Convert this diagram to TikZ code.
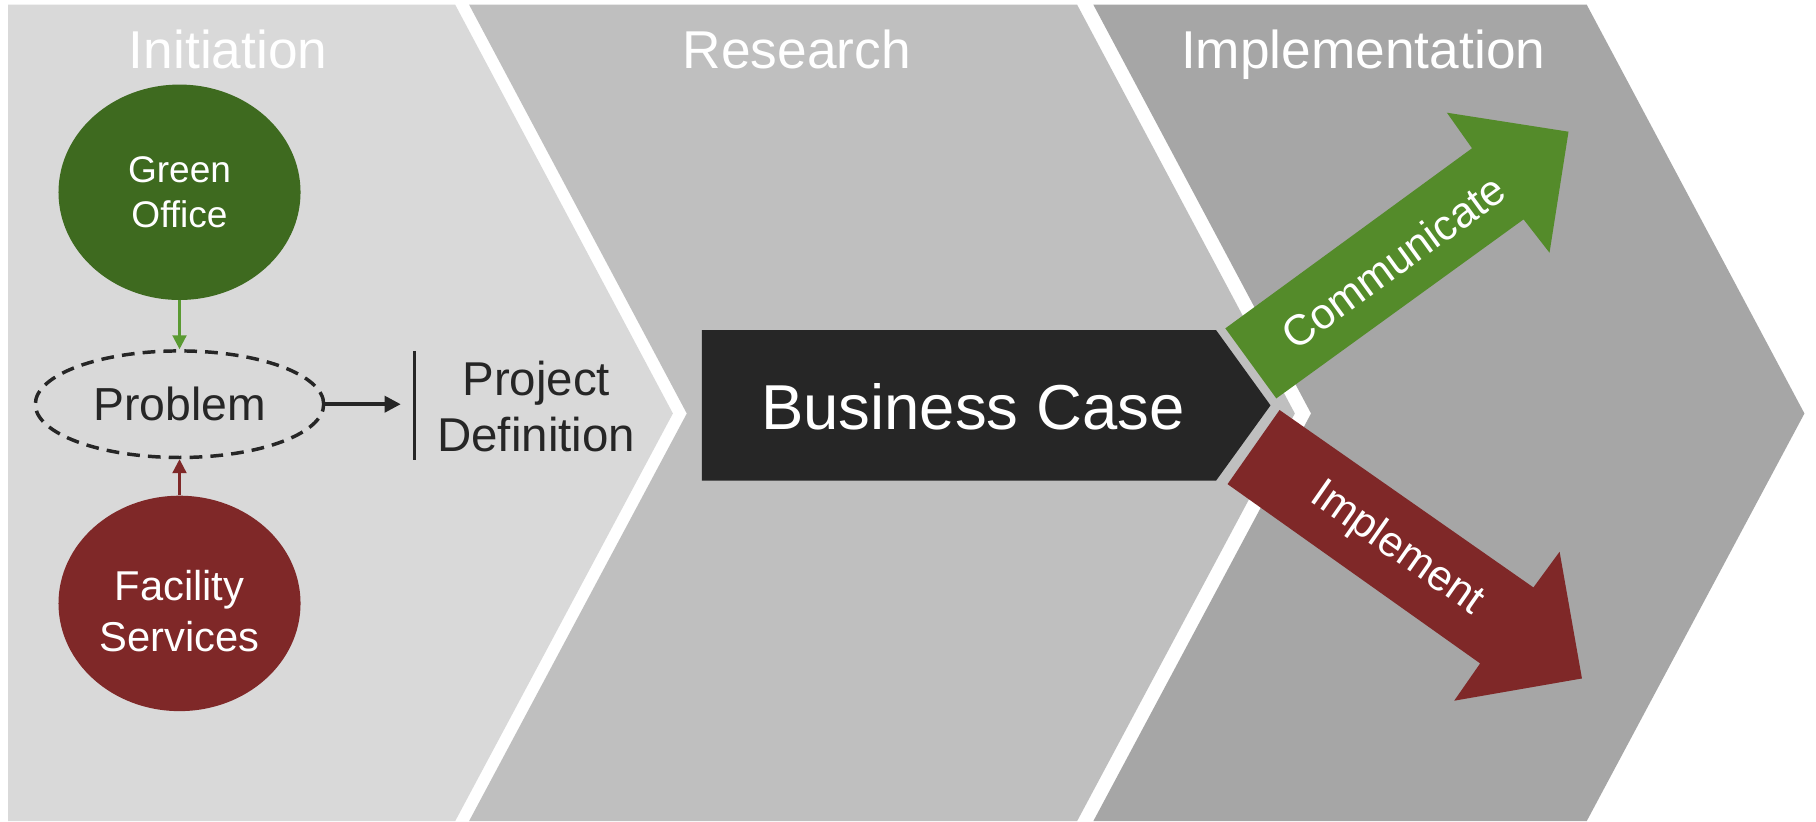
\documentclass[tikz,border=0pt]{standalone}
\usepackage{fontspec}
\setmainfont{Liberation Sans}
\usetikzlibrary{shapes.geometric,arrows.meta}
\definecolor{cone}{HTML}{D9D9D9}
\definecolor{ctwo}{HTML}{BFBFBF}
\definecolor{cthree}{HTML}{A6A6A6}
\definecolor{dkgreen}{HTML}{3E6A1F}
\definecolor{maroon}{HTML}{7F2828}
\definecolor{arrgreen}{HTML}{548B2A}
\definecolor{ltgreen}{HTML}{5A9A32}
\definecolor{dark}{HTML}{262626}
\begin{document}
\begin{tikzpicture}[x=0.5pt,y=-0.5pt,
  title/.style={text=white,font=\fontsize{23}{27}\selectfont,anchor=base},
  bubble/.style={ellipse,minimum width=104.5pt,minimum height=93pt,inner sep=0pt,text=white,align=center,font=\fontsize{16}{19.3}\selectfont},
  bubbletext/.style={text=white,align=center,inner sep=0pt},
  dashell/.style={ellipse,draw=dark,line width=1.5pt,dash pattern=on 5.5pt off 3.5pt,minimum width=124.5pt,minimum height=46pt,inner sep=0pt,text=dark,font=\fontsize{20}{24}\selectfont},
  blocklabel/.style={text=white,font=\fontsize{18.5}{22}\selectfont,anchor=center}]
\useasboundingbox (0,0) rectangle (1568,709);
\fill[white] (0,0) rectangle (1568,709);
% chevrons
\fill[cone] (7,4) -- (393,4) -- (581,357) -- (393,709) -- (7,709) -- cycle;
\fill[ctwo] (405,4) -- (930,4) -- (1118,357) -- (930,709) -- (405,709) -- (593,357) -- cycle;
\fill[cthree] (944,4) -- (1370,4) -- (1558,357) -- (1370,709) -- (944,709) -- (1132,357) -- cycle;
% titles
\node[title] (t1) at (197,59.5) {Initiation};
\node[title] (t2) at (688,59.5) {Research};
\node[title] (t3) at (1177,59.5) {Implementation};
% initiation nodes
\node[bubble,fill=dkgreen] (green) at (155,166) {Green\\Office};
\node[bubble,fill=maroon] (facility) at (155,521) {};
\node[bubbletext,font=\fontsize{18}{22}\selectfont] (factext) at (155,528) {Facility\\Services};
\node[dashell] (problem) at (155,349) {Problem};
\draw[ltgreen,line width=1pt,-{Triangle[length=6pt,width=6pt]}] (green.south) -- (problem.north);
\draw[maroon,line width=1pt,-{Triangle[length=6pt,width=6pt]}] (facility.north) -- (problem.south);
\coordinate (bartop) at (358,303);
\coordinate (barbot) at (358,397);
\coordinate (barin) at (346,349);
\draw[dark,line width=1.5pt] (bartop) -- (barbot);
\draw[dark,line width=1.5pt,-{Triangle[length=7pt,width=7pt]}] (problem.east) -- (barin);
\node[text=dark,align=center,font=\fontsize{20.5}{24.5}\selectfont] (projdef) at (463,351) {Project\\Definition};
% business case
\fill[dark] (606,285) -- (1050,285) -- (1097,350) -- (1050,415) -- (606,415) -- cycle;
\node[text=white,font=\fontsize{27.4}{32}\selectfont] (bc) at (840,351) {Business Case};
% communicate arrow
\fill[arrgreen] (1058,283.5) -- (1271,128) -- (1249.3,97.3) -- (1354.3,113.7) -- (1337.9,218.2) -- (1315.5,189.4) -- (1102,344) -- cycle;
\node[blocklabel,rotate=36] (comm) at (1203,226) {Communicate};
% implement arrow
\fill[maroon] (1104.8,354) -- (1324,507.2) -- (1346.6,476.4) -- (1365.9,585.8) -- (1255.6,605) -- (1278,572.8) -- (1059.9,418) -- cycle;
\node[blocklabel,rotate=-35] (impl) at (1206,474) {Implement};
\end{tikzpicture}
\end{document}
